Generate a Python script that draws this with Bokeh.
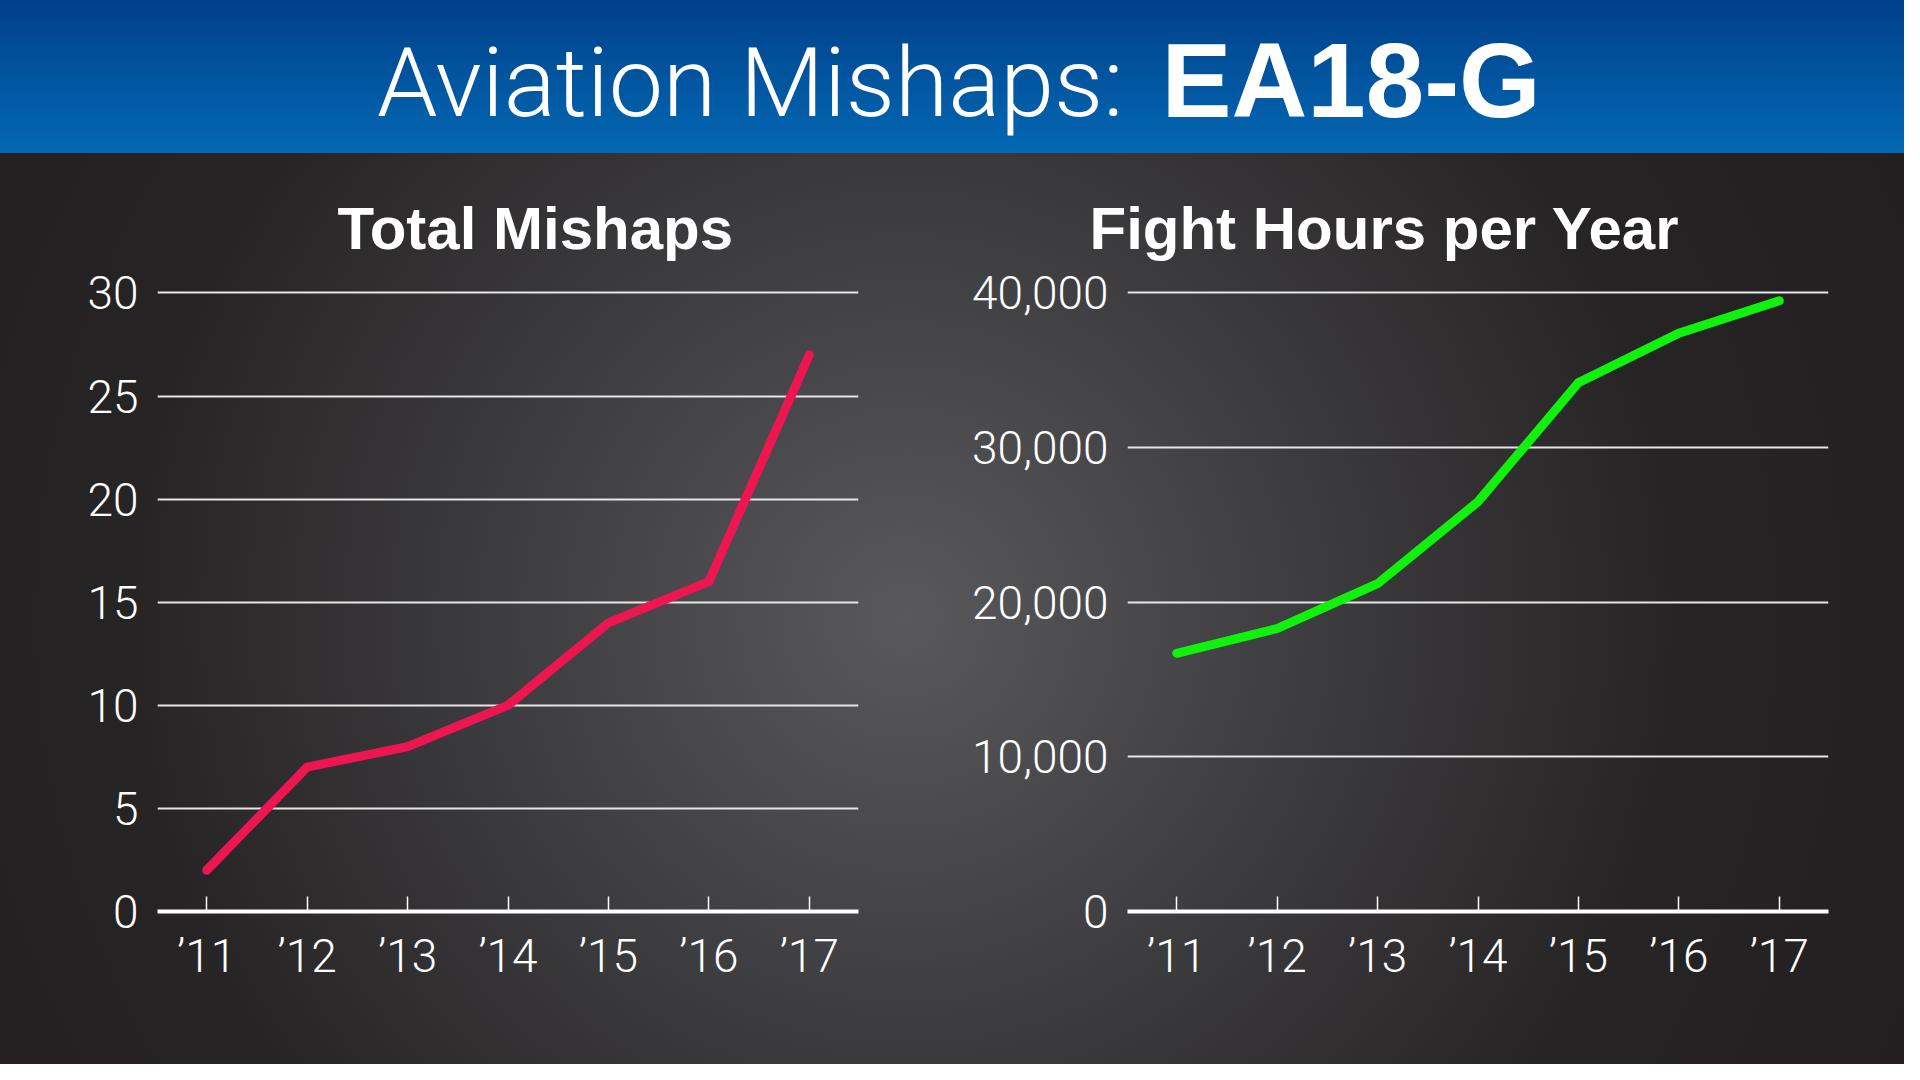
from bokeh.plotting import figure
from bokeh.models import FixedTicker, NumeralTickFormatter, Label, Range1d
from bokeh.layouts import column, row
from bokeh.embed import file_html
from bokeh.resources import INLINE

# ---- data ----
years = [2011, 2012, 2013, 2014, 2015, 2016, 2017]
year_labels = ["\u201911", "\u201912", "\u201913", "\u201914", "\u201915", "\u201916", "\u201917"]
mishaps = [2, 7, 8, 10, 14, 16, 27]
flight_hours = [16700, 18300, 21200, 26500, 34200, 37400, 39500]
mishap_ticks = [0, 5, 10, 15, 20, 25, 30]
hour_ticks = [0, 10000, 20000, 30000, 40000]
header_light = "Aviation Mishaps:"
header_bold = "EA18-G"
left_title = "Total Mishaps"
right_title = "Fight Hours per Year"

LIGHT = "Roboto Light"
BOLD = "Liberation Sans"

# ---- header ----
header = figure(width=1904, height=153, x_range=Range1d(0, 1904), y_range=Range1d(0, 153),
                toolbar_location=None, output_backend="svg", title_location=None,
                x_axis_location=None, y_axis_location=None,
                min_border_left=0, min_border_right=0, min_border_top=0, min_border_bottom=0)
header.grid.visible = False
header.outline_line_color = None
header.background_fill_alpha = 0
header.border_fill_alpha = 0
header.styles = {"background": "linear-gradient(180deg, #00408a 0%, #0468b3 100%)"}
header.add_layout(Label(x=1123, y=71, text=header_light, text_align="right",
                        text_baseline="middle", text_font=LIGHT,
                        text_font_size="97px", text_color="white"))
header.add_layout(Label(x=1161, y=73, text=header_bold, text_align="left",
                        text_baseline="middle", text_font=BOLD, text_font_style="bold",
                        text_font_size="105px", text_color="white"))


def make_chart(values, ticks, color, title, width, left_border, right_border, title_offset, fmt=None):
    top = ticks[-1] * 1.004  # tiny headroom so the top grid line is drawn
    p = figure(width=width, height=911, x_range=Range1d(2010.51, 2017.49),
               y_range=Range1d(0, top), toolbar_location=None, output_backend="svg",
               min_border_left=left_border, min_border_right=right_border,
               min_border_top=137, min_border_bottom=153)
    p.background_fill_alpha = 0
    p.border_fill_alpha = 0
    p.outline_line_color = None

    p.title.text = title
    p.title.align = "left"
    p.title.offset = title_offset
    p.title.text_font = BOLD
    p.title.text_font_style = "bold"
    p.title.text_font_size = "60px"
    p.title.text_color = "white"
    p.title.standoff = 58

    p.xgrid.visible = False
    p.ygrid.ticker = FixedTicker(ticks=ticks)
    p.ygrid.grid_line_color = "#e6e6e6"
    p.ygrid.grid_line_width = 2

    ya = p.yaxis[0]
    ya.ticker = FixedTicker(ticks=ticks)
    if fmt:
        ya.formatter = NumeralTickFormatter(format=fmt)
    ya.axis_line_color = None
    ya.major_tick_line_color = None
    ya.minor_tick_line_color = None
    ya.major_label_text_font = LIGHT
    ya.major_label_text_font_size = "46px"
    ya.major_label_text_color = "white"
    ya.major_label_standoff = 13

    xa = p.xaxis[0]
    xa.ticker = FixedTicker(ticks=years)
    xa.major_label_overrides = dict(zip(years, year_labels))
    xa.axis_line_color = "white"
    xa.axis_line_width = 4
    xa.major_tick_in = 15
    xa.major_tick_out = 0
    xa.major_tick_line_color = "white"
    xa.major_tick_line_width = 1.5
    xa.minor_tick_line_color = None
    xa.major_label_text_font = LIGHT
    xa.major_label_text_font_size = "46px"
    xa.major_label_text_color = "white"
    xa.major_label_standoff = 17

    p.line(years, values, line_color=color, line_width=9, line_cap="round", line_join="miter")
    return p


left = make_chart(mishaps, mishap_ticks, "#ed1651", left_title, 960, 157, 102, 180)
right = make_chart(flight_hours, hour_ticks, "#10f20e", right_title, 944, 167, 76, -38, fmt="0,0")

body = row(left, right, styles={
    "background": "radial-gradient(circle at 905px 465px, #59595b 0%, #3c3b3d 38%, #272425 70%, #231f20 100%)"
})
layout = column(header, body)

open("out.html", "w").write(file_html(layout, INLINE))
